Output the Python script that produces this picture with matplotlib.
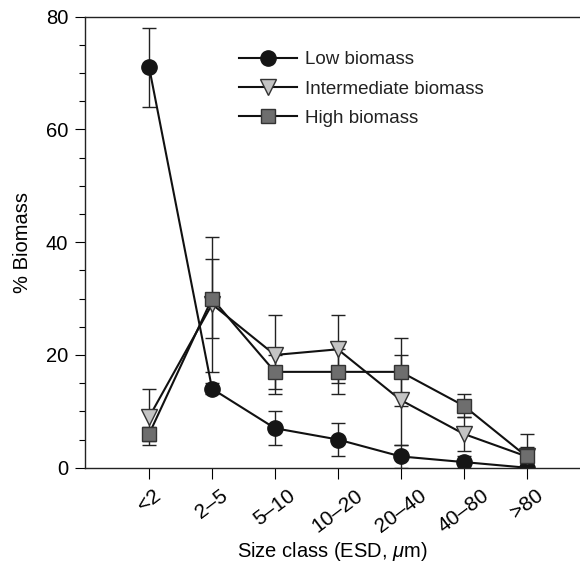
import numpy as np
import matplotlib
matplotlib.use("Agg")
import matplotlib.pyplot as plt
from matplotlib.ticker import MultipleLocator

plt.rcParams['font.family'] = ['Liberation Sans', 'DejaVu Sans']
plt.rcParams['mathtext.fontset'] = 'custom'
plt.rcParams['mathtext.it'] = 'Liberation Sans:italic'
plt.rcParams['mathtext.rm'] = 'Liberation Sans'

# size classes
size_classes = ['<2', '2–5', '5–10', '10–20', '20–40', '40–80', '>80']

# % biomass per size class, with lower / upper error bar lengths
low_mean = [71, 14, 7, 5, 2, 1, 0]
low_err_lo = [7, 1, 3, 3, 2, 1, 0]
low_err_hi = [7, 1, 3, 3, 2, 1, 0]

mid_mean = [9, 29, 20, 21, 12, 6, 2]
mid_err_lo = [5, 6, 7, 6, 8, 3, 1.5]
mid_err_hi = [5, 8, 7, 6, 8, 3, 1.6]

high_mean = [6, 30, 17, 17, 17, 11, 2]
high_err_lo = [1.2, 13, 3, 4, 6, 2, 2]
high_err_hi = [1.2, 11, 3, 4, 6, 2, 4]

x = np.arange(len(size_classes))

fig = plt.figure(figsize=(5.8, 5.65), dpi=100)
ax = fig.add_axes([85/580, 1 - 467.7/565, 1 - 85/580, (467.7 - 16.7)/565])

line_kw = dict(color='#111111', lw=1.5, capsize=5, elinewidth=1.0,
               ecolor='#222222', capthick=1.0)

c_low = ax.errorbar(x, low_mean, yerr=[low_err_lo, low_err_hi], marker='o', ms=11,
                    mfc='#151515', mec='#151515', label='Low biomass', **line_kw)
c_mid = ax.errorbar(x, mid_mean, yerr=[mid_err_lo, mid_err_hi], marker='v', ms=11,
                    mfc='#c4c4c4', mec='#333333', mew=1.0,
                    label='Intermediate biomass', **line_kw)
c_high = ax.errorbar(x, high_mean, yerr=[high_err_lo, high_err_hi], marker='s', ms=10,
                     mfc='#6e6e6e', mec='#333333', mew=1.0, label='High biomass', **line_kw)

ax.set_xlim(-1.02, 6.85)
ax.set_ylim(0, 80)
ax.yaxis.set_major_locator(MultipleLocator(20))
ax.yaxis.set_minor_locator(MultipleLocator(5))
ax.set_xticks(x)
ax.set_xticklabels(size_classes, rotation=37, ha='center', fontsize=15)
ax.tick_params(axis='y', which='major', direction='out', length=7.2, width=0.8,
               labelsize=14.5, pad=5)
ax.tick_params(axis='y', which='minor', direction='out', length=4.3, width=0.8)
ax.tick_params(axis='x', which='major', direction='out', length=8, width=0.8, pad=5)

for side in ['left', 'bottom', 'top']:
    ax.spines[side].set_linewidth(1.0)
    ax.spines[side].set_color('#222222')
ax.spines['right'].set_visible(False)

ax.set_ylabel('% Biomass', fontsize=14.5, labelpad=10)
ax.set_xlabel('Size class (ESD, $\\mathit{\\mu}$m)', fontsize=14.5, labelpad=3)

handles = [c_low[0], c_mid[0], c_high[0]]
labels = ['Low biomass', 'Intermediate biomass', 'High biomass']
leg = fig.legend(handles, labels, loc='center left',
                 bbox_to_anchor=(239/580, 1 - 89/565),
                 frameon=False, fontsize=13.5, handlelength=3.1,
                 handletextpad=0.4, labelspacing=0.65, borderpad=0,
                 borderaxespad=0)
for t in leg.get_texts():
    t.set_color('#222222')

fig.savefig('out.png', dpi=100)
